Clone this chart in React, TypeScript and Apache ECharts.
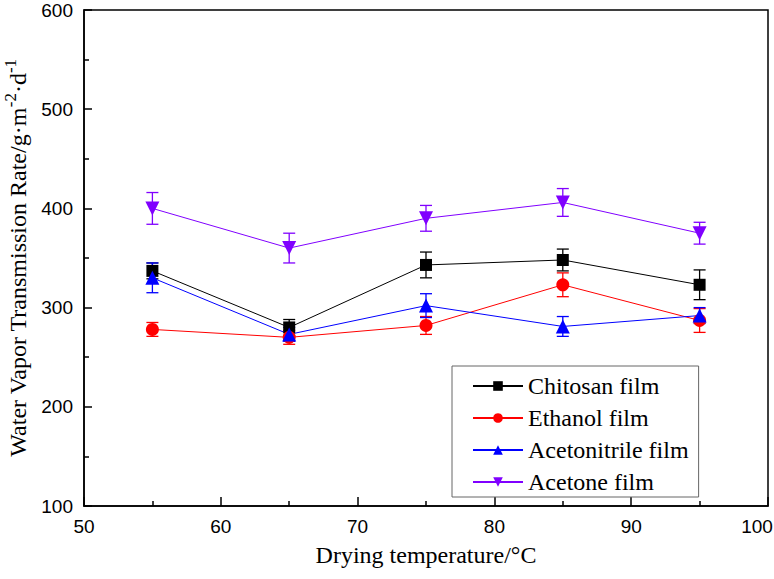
import React, { useEffect, useRef } from "react";
import * as echarts from "echarts";

const temps = [55, 65, 75, 85, 95];
const chitosan = [337, 280, 343, 348, 323];
const chitosanErr = [8, 8, 13, 11, 15];
const ethanol = [278, 270, 282, 323, 287];
const ethanolErr = [7, 7, 9, 12, 12];
const acetonitrile = [330, 273, 302, 281, 292];
const acetonitrileErr = [15, 7, 12, 10, 8];
const acetone = [400, 360, 390, 406, 375];
const acetoneErr = [16, 15, 13, 14, 11];

const seriesDefs = [
  { name: "Chitosan film", data: chitosan, err: chitosanErr, color: "#000000", symbol: "rect", size: 12, rotate: 0 },
  { name: "Ethanol film", data: ethanol, err: ethanolErr, color: "#ff0000", symbol: "circle", size: 13, rotate: 0 },
  { name: "Acetonitrile film", data: acetonitrile, err: acetonitrileErr, color: "#0000ff", symbol: "triangle", size: 14, rotate: 0 },
  { name: "Acetone film", data: acetone, err: acetoneErr, color: "#8000ff", symbol: "triangle", size: 14, rotate: 180 },
];

export default function App() {
  const ref = useRef<HTMLDivElement>(null);
  useEffect(() => {
    if (!ref.current) return;
    const chart = echarts.init(ref.current, null, { renderer: "svg" });
    const series: any[] = [];
    seriesDefs.forEach((s) => {
      series.push({
        name: s.name + " err",
        type: "custom",
        z: 1,
        data: temps.map((t, i) => [t, s.data[i] - s.err[i], s.data[i] + s.err[i]]),
        renderItem: (params: any, api: any) => {
          const x = api.value(0);
          const lo = api.coord([x, api.value(1)]);
          const hi = api.coord([x, api.value(2)]);
          const hw = 6;
          const st = { stroke: s.color, lineWidth: 1.3 };
          return {
            type: "group",
            children: [
              { type: "line", shape: { x1: lo[0], y1: lo[1], x2: hi[0], y2: hi[1] }, style: st },
              { type: "line", shape: { x1: lo[0] - hw, y1: lo[1], x2: lo[0] + hw, y2: lo[1] }, style: st },
              { type: "line", shape: { x1: hi[0] - hw, y1: hi[1], x2: hi[0] + hw, y2: hi[1] }, style: st },
            ],
          };
        },
      });
      series.push({
        name: s.name,
        type: "line",
        z: 3,
        data: temps.map((t, i) => [t, s.data[i]]),
        symbol: s.symbol,
        symbolSize: s.size,
        symbolRotate: s.rotate,
        showAllSymbol: true,
        lineStyle: { color: s.color, width: 1 },
        itemStyle: { color: s.color },
      });
    });
    chart.setOption({
      animation: false,
      backgroundColor: "#ffffff",
      grid: {
        left: 84,
        right: 6,
        top: 10,
        bottom: 73,
        containLabel: false,
        outerBoundsMode: "none",
        show: true,
        borderColor: "#000",
        borderWidth: 1.5,
      },
      legend: {
        data: seriesDefs.map((s) => s.name),
        orient: "vertical",
        left: 452,
        top: 366,
        itemWidth: 50,
        itemHeight: 12,
        itemGap: 8,
        padding: [8, 10, 3, 20],
        borderColor: "#666",
        borderWidth: 1,
        backgroundColor: "#fff",
        textStyle: { fontFamily: "Liberation Serif", fontSize: 24, color: "#000" },
      },
      xAxis: {
        type: "value",
        min: 50,
        max: 100,
        interval: 10,
        name: "Drying temperature/°C",
        nameLocation: "middle",
        nameGap: 37,
        nameTextStyle: { fontFamily: "Liberation Serif", fontSize: 24, color: "#000" },
        axisLine: { show: true, lineStyle: { color: "#000", width: 1.5 } },
        axisTick: { show: true, inside: true, length: 9, lineStyle: { color: "#000", width: 1.5 } },
        minorTick: { show: true, splitNumber: 2, length: 5, lineStyle: { color: "#000", width: 1.5 } },
        axisLabel: {
          fontFamily: "Liberation Sans",
          fontSize: 19,
          color: "#000",
          margin: 11,
          formatter: (v: number) => (v === 100 ? "{r|" + v + "}" : String(v)),
          rich: {
            r: { fontFamily: "Liberation Sans", fontSize: 19, color: "#000", padding: [0, 22, 0, 0] },
          },
        },
        splitLine: { show: false },
      },
      yAxis: {
        type: "value",
        min: 100,
        max: 600,
        interval: 100,
        name: "Water Vapor Transmission Rate/g·m{sup|-2}·d{sup|-1}",
        nameLocation: "middle",
        nameGap: 44,
        nameRotate: 90,
        nameTextStyle: {
          fontFamily: "Liberation Serif",
          fontSize: 24,
          color: "#000",
          rich: {
            sup: { fontFamily: "Liberation Serif", fontSize: 17, color: "#000", padding: [0, 0, 16, 0] },
          },
        },
        axisLine: { show: true, lineStyle: { color: "#000", width: 1.5 } },
        axisTick: { show: true, inside: true, length: 8, lineStyle: { color: "#000", width: 1.5 } },
        minorTick: { show: true, splitNumber: 2, length: 5, lineStyle: { color: "#000", width: 1.5 } },
        axisLabel: { fontFamily: "Liberation Sans", fontSize: 19, color: "#000", margin: 11 },
        splitLine: { show: false },
      },
      series,
    });
    return () => chart.dispose();
  }, []);
  return (
    <div
      ref={ref}
      style={{ position: "absolute", left: 0, top: 0, width: 774, height: 579 }}
    />
  );
}
